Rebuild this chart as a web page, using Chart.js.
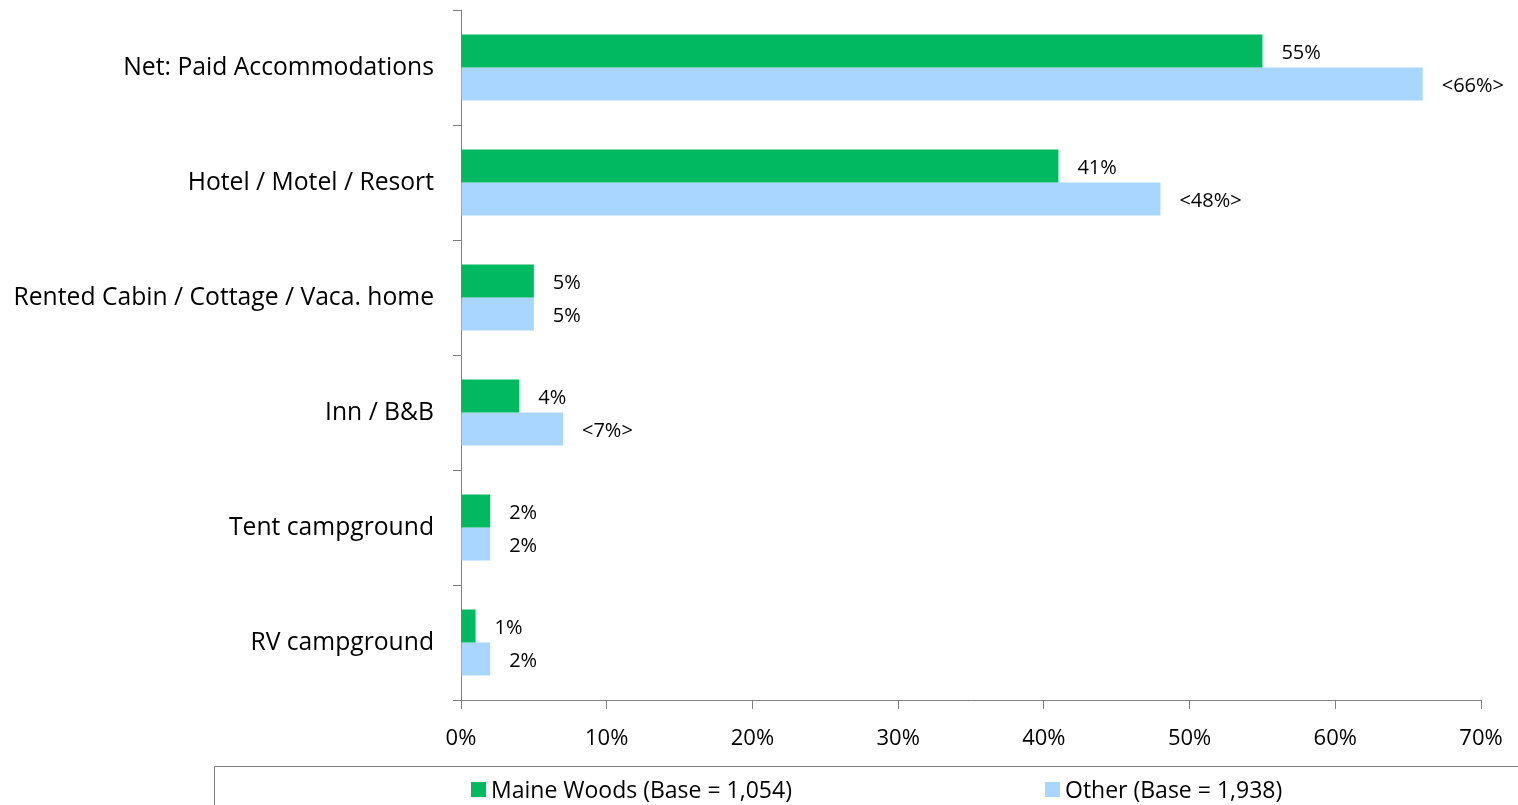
<!DOCTYPE html>
<html>
<head>
<meta charset="utf-8">
<script src="https://cdn.jsdelivr.net/npm/chart.js@4.4.1/dist/chart.umd.min.js"></script>
<style>
  html, body { margin:0; padding:0; background:#fff; }
  #wrap { position:relative; width:1518px; height:805px; }
  #legend {
    position:absolute; left:214px; top:766px; width:1320px; height:50px;
    border:1px solid #808080; box-sizing:border-box;
    font-family: "Open Sans", Lato, sans-serif; font-size:23px; color:#000;
  }
  .item { position:absolute; top:6px; display:flex; align-items:center; }
  .sw { width:15px; height:15px; margin-right:5px; }
</style>
</head>
<body>
<div id="wrap">
  <canvas id="chart" width="1518" height="805"></canvas>
  <div id="legend"></div>
</div>
<script>
// values
const categories = ['Net: Paid Accommodations','Hotel / Motel / Resort','Rented Cabin / Cottage / Vaca. home','Inn / B&B','Tent campground','RV campground'];
const maineWoods = [55, 41, 5, 4, 2, 1];
const other = [66, 48, 5, 7, 2, 2];
// <..> marks significant difference in the source
const otherFlag = [true, true, false, true, false, false];
const seriesNames = ['Maine Woods (Base = 1,054)', 'Other (Base = 1,938)'];
const seriesColors = ['#00B960', '#A9D6FF'];
const xTicks = [0, 10, 20, 30, 40, 50, 60, 70];

const FONT = '"Open Sans", Lato, sans-serif';

// value labels to the right of each bar
const barLabels = {
  id: 'barLabels',
  afterDatasetsDraw(chart){
    const ctx = chart.ctx;
    ctx.save();
    ctx.font = '20px ' + FONT;
    ctx.fillStyle = '#000';
    ctx.textBaseline = 'middle';
    chart.data.datasets.forEach((ds, di) => {
      chart.getDatasetMeta(di).data.forEach((bar, i) => {
        let txt = ds.data[i] + '%';
        if(di === 1 && otherFlag[i]) txt = '<' + txt + '>';
        ctx.fillText(txt, bar.x + 19, bar.y + 2);
      });
    });
    ctx.restore();
  }
};

new Chart(document.getElementById('chart'), {
  type: 'bar',
  data: {
    labels: categories,
    datasets: [
      { label: seriesNames[0], data: maineWoods, backgroundColor: seriesColors[0] },
      { label: seriesNames[1], data: other, backgroundColor: seriesColors[1] }
    ]
  },
  options: {
    indexAxis: 'y',
    responsive: false,
    animation: false,
    layout: { padding: { top: 10, right: 37, left: 0, bottom: 0 } },
    datasets: { bar: { categoryPercentage: 0.574, barPercentage: 1.0 } },
    plugins: { legend: { display: false }, tooltip: { enabled: false } },
    scales: {
      x: {
        min: 0, max: 70,
        afterFit(s){ s.height = 105; s.paddingLeft = 0; s.paddingRight = 0; },
        afterBuildTicks(s){ s.ticks = xTicks.map(v => ({ value: v })); },
        border: { color: '#808080', width: 1 },
        grid: { drawOnChartArea: false, tickLength: 9, color: '#808080' },
        ticks: { color: '#000', font: { family: FONT, size: 22 }, padding: 17,
                 callback: v => v + '%' }
      },
      y: {
        afterFit(s){ s.width = 461; s.paddingTop = 0; s.paddingBottom = 0; },
        border: { color: '#808080', width: 1 },
        grid: { drawOnChartArea: false, tickLength: 8, color: '#808080' },
        ticks: { color: '#000', font: { family: FONT, size: 24.7 }, padding: 19 }
      }
    }
  },
  plugins: [barLabels]
});

// legend as html (box at bottom)
const legend = document.getElementById('legend');
const legendX = [256, 830];
legend.innerHTML = seriesNames.map((n, i) =>
  `<div class="item" style="left:${legendX[i]}px"><span class="sw" style="background:${seriesColors[i]}"></span>${n}</div>`
).join('');
</script>
</body>
</html>
